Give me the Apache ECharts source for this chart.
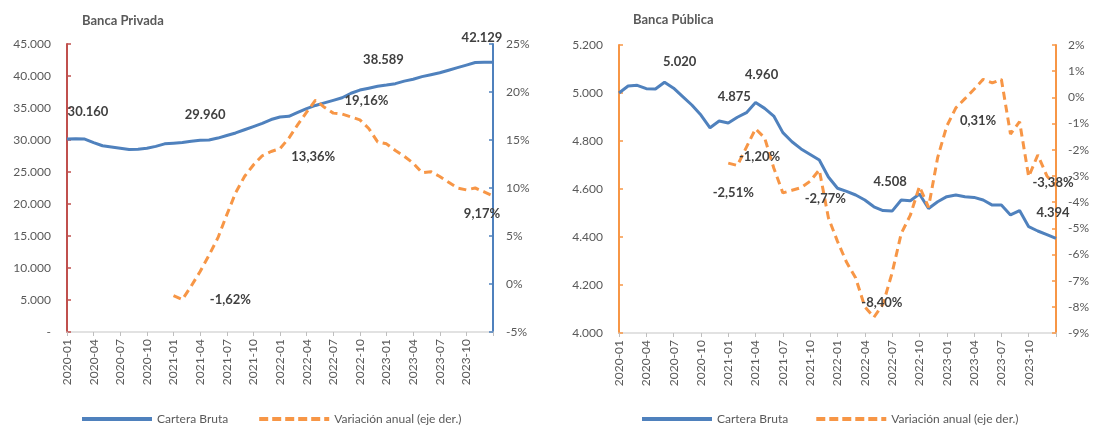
<!DOCTYPE html>
<html lang="es">
<head>
    <meta charset="UTF-8">
    <title>Cartera bruta</title>
    <script src="https://cdn.jsdelivr.net/npm/echarts@6/dist/echarts.min.js"></script>
    <style>
        html, body { margin: 0; padding: 0; background: #fff; }
    </style>
</head>
<body>
<div id="main" style="width: 1094px;height:425px;"></div>
<script>
    // meses 2020-01 .. 2024-01
    var months = []
    for (var y = 2020; y <= 2024; y++) {
        for (var m = 1; m <= 12; m++) {
            if (y === 2024 && m > 1) break
            months.push(y + '-' + (m < 10 ? '0' + m : m))
        }
    }

    // Banca Privada - cartera bruta (millones)
    var privBruta = [30160, 30200, 30150, 29600, 29100, 28900, 28700, 28500, 28550, 28700,
        29000, 29400, 29500, 29600, 29800, 29960, 30000, 30300, 30700, 31100,
        31600, 32100, 32600, 33200, 33600, 33700, 34300, 34900, 35400, 35800,
        36200, 36600, 37300, 37800, 38100, 38400, 38589, 38800, 39200, 39500,
        39900, 40200, 40500, 40900, 41300, 41700, 42100, 42130, 42129]
    // Banca Privada - variacion anual (%)
    var privVar = [null, null, null, null, null, null, null, null, null, null,
        null, null, -1.2, -1.62, -0.2, 1.3, 3.0, 4.8, 7.2, 9.5,
        11.2, 12.4, 13.36, 13.8, 14.1, 15.2, 16.6, 17.9, 19.16, 18.4,
        17.8, 17.7, 17.4, 17.1, 16.2, 14.8, 14.6, 13.9, 13.3, 12.6,
        11.6, 11.7, 11.2, 10.6, 10.0, 9.8, 10.0, 9.6, 9.17]

    // Banca Publica - cartera bruta (millones)
    var pubBruta = [5000, 5029, 5032, 5018, 5017, 5045, 5020, 4985, 4950, 4908,
        4855, 4883, 4875, 4899, 4918, 4960, 4936, 4904, 4835, 4797,
        4767, 4744, 4721, 4650, 4603, 4590, 4575, 4554, 4526, 4510,
        4508, 4554, 4551, 4579, 4519, 4547, 4568, 4575, 4568, 4565,
        4554, 4533, 4533, 4492, 4510, 4443, 4425, 4410, 4394]
    // Banca Publica - variacion anual (%)
    var pubVar = [null, null, null, null, null, null, null, null, null, null,
        null, null, -2.51, -2.6, -1.9, -1.2, -1.55, -2.7, -3.65, -3.55,
        -3.45, -3.2, -2.77, -4.6, -5.5, -6.3, -6.9, -8.0, -8.4, -7.9,
        -6.7, -5.2, -4.5, -3.4, -4.2, -2.3, -1.1, -0.4, -0.05, 0.31,
        0.69, 0.55, 0.69, -1.4, -0.93, -3.03, -2.2, -3.0, -3.38]

    // puntos con etiqueta
    var privBrutaLabels = [0, 15, 36, 48]
    var privVarLabels = [13, 22, 28, 48]
    var pubBrutaLabels = [6, 12, 15, 30, 48]
    var pubVarLabels = [12, 15, 22, 28, 39, 48]

    var BLUE = '#4F81BD'
    var ORANGE = '#F79646'
    var GREY = '#595959'
    var FONT = 'Lato'

    function fmtMiles(v) {
        if (v === 0) return '-'
        return String(Math.round(v)).replace(/\B(?=(\d{3})+(?!\d))/g, '.')
    }
    function fmtPct(v) {
        return v.toFixed(2).replace('.', ',') + '%'
    }

    // posicion de las etiquetas (centro del texto respecto al punto)
    var offsets = {
        privBruta: {0: [21, -27], 15: [5, -25], 36: [-3, -25], 48: [-11, -25]},
        privVar: {13: [48, 0], 22: [51, 1], 28: [51, 1], 48: [-11, 18]},
        pubBruta: {6: [6, -26], 12: [6, -26], 15: [6, -28], 30: [-2, -29], 48: [-3, -26]},
        pubVar: {12: [5, 30], 15: [4, 28], 22: [6, 29], 28: [8, -14], 39: [4, 32], 48: [-3, -3]}
    }

    function buildData(values, labelIdx, offs, fmt) {
        return values.map(function (v, i) {
            if (labelIdx.indexOf(i) < 0 || v === null) return v
            return {
                value: v,
                label: {
                    show: true,
                    position: offs[i],
                    align: 'center',
                    verticalAlign: 'middle',
                    formatter: fmt(v),
                    color: '#404040',
                    fontFamily: FONT,
                    fontWeight: 'bold',
                    fontSize: 13
                }
            }
        })
    }

    function xAxis(grid) {
        return {
            type: 'category',
            gridIndex: grid,
            data: months,
            boundaryGap: false,
            axisLine: {onZero: false, lineStyle: {color: '#D9D9D9', width: 1.5}},
            axisTick: {
                interval: function (i) { return i % 3 === 0 },
                length: 4,
                lineStyle: {color: '#BFBFBF'}
            },
            axisLabel: {
                interval: function (i) { return i % 3 === 0 && i < 48 },
                rotate: 90,
                margin: 7,
                color: GREY,
                fontFamily: FONT,
                fontSize: 12
            },
            splitLine: {show: false}
        }
    }

    function yAxis(grid, pos, min, max, interval, color, fmt, margin) {
        return {
            type: 'value',
            gridIndex: grid,
            position: pos,
            min: min,
            max: max,
            interval: interval,
            axisLine: {show: true, lineStyle: {color: color, width: 2}},
            axisTick: {show: true, inside: true, length: 4, lineStyle: {color: color, width: 1.5}},
            axisLabel: {
                margin: margin,
                color: GREY,
                fontFamily: FONT,
                fontSize: 12,
                formatter: fmt
            },
            splitLine: {show: false}
        }
    }

    var lineBlue = {color: BLUE, width: 3}
    var lineOrange = {color: ORANGE, width: 3, type: [8, 5]}

    // iconos de leyenda: linea solida y linea a trazos
    var iconSolid = 'path://M0,0H70V4H0Z'
    var iconDash = 'path://M0,0H9V4H0Z M13,0H22V4H13Z M26,0H35V4H26Z M39,0H48V4H39Z M52,0H61V4H52Z M65,0H70V4H65Z'

    function legend(left, gap, suffix) {
        return {
            left: left, top: 408, itemWidth: 70, itemHeight: 4, itemGap: gap,
            textStyle: {fontFamily: "'Liberation Sans Narrow', " + FONT, fontSize: 12, color: GREY},
            data: [
                {name: 'Cartera Bruta' + suffix, icon: iconSolid, itemStyle: {color: BLUE, opacity: 1}},
                {name: 'Variación anual (eje der.)' + suffix, icon: iconDash, itemStyle: {color: ORANGE, opacity: 1}}
            ]
        }
    }

    function lineSeries(name, xi, yi, lineStyle, color, data) {
        return {
            name: name, type: 'line', xAxisIndex: xi, yAxisIndex: yi,
            symbol: 'circle', symbolSize: 0, showSymbol: true, showAllSymbol: true,
            lineStyle: lineStyle, itemStyle: {color: color},
            data: data
        }
    }

    var option = {
        animation: false,
        backgroundColor: '#fff',
        title: [
            {text: 'Banca Privada', left: 77, top: 9,
                textStyle: {fontFamily: FONT, fontSize: 13, fontWeight: 'bold', color: GREY}},
            {text: 'Banca Pública', left: 628, top: 8,
                textStyle: {fontFamily: FONT, fontSize: 13, fontWeight: 'bold', color: GREY}}
        ],
        legend: [legend(77, 31, ''), legend(637, 25, ' ')],
        grid: [
            {left: 67, right: 601, top: 44, bottom: 93},
            {left: 619, right: 38, top: 45, bottom: 92}
        ],
        xAxis: [xAxis(0), xAxis(1)],
        yAxis: [
            yAxis(0, 'left', 0, 45000, 5000, '#C0504D', fmtMiles, 16),
            yAxis(0, 'right', -5, 25, 5, BLUE, function (v) { return v + '%' }, 13),
            yAxis(1, 'left', 4000, 5200, 200, ORANGE, fmtMiles, 16),
            yAxis(1, 'right', -9, 2, 1, ORANGE, function (v) { return v + '%' }, 12)
        ],
        series: [
            lineSeries('Cartera Bruta', 0, 0, lineBlue, BLUE,
                buildData(privBruta, privBrutaLabels, offsets.privBruta, fmtMiles)),
            lineSeries('Variación anual (eje der.)', 0, 1, lineOrange, ORANGE,
                buildData(privVar, privVarLabels, offsets.privVar, fmtPct)),
            lineSeries('Cartera Bruta ', 1, 2, lineBlue, BLUE,
                buildData(pubBruta, pubBrutaLabels, offsets.pubBruta, fmtMiles)),
            lineSeries('Variación anual (eje der.) ', 1, 3, lineOrange, ORANGE,
                buildData(pubVar, pubVarLabels, offsets.pubVar, fmtPct))
        ]
    }

    var myChart = echarts.init(document.getElementById('main'))
    myChart.setOption(option)
</script>
</body>
</html>
